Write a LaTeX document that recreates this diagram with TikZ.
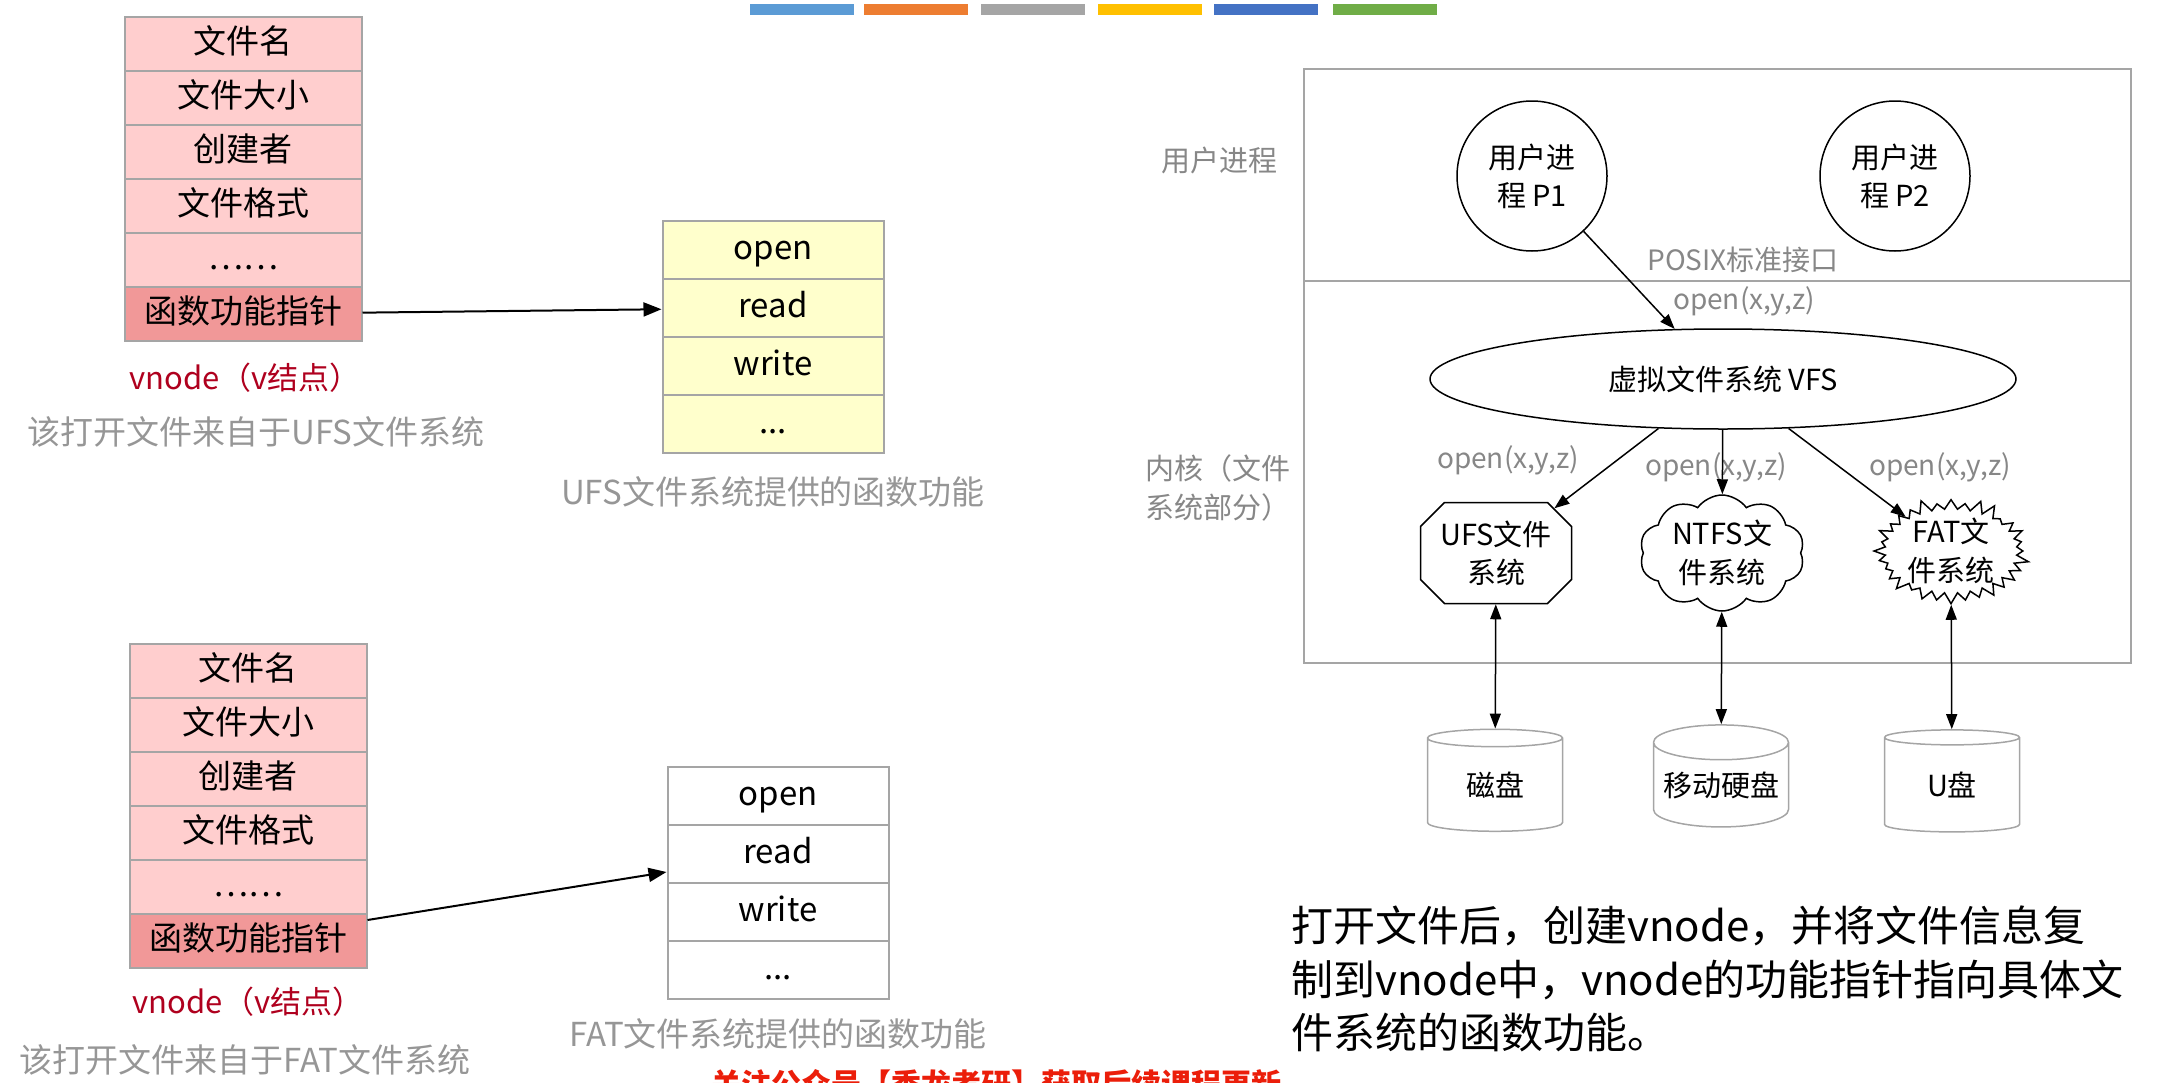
\documentclass[tikz,border=0pt]{standalone}
\usepackage{fontspec}
\setmainfont{Noto Sans CJK SC}
\usepackage{tikz}
\usetikzlibrary{arrows.meta}
\usetikzlibrary{shapes.geometric}
\usetikzlibrary{shapes.misc}
\usetikzlibrary{shapes.symbols}
\definecolor{pinkfill}{RGB}{255,206,206}
\definecolor{ptrfill}{RGB}{241,152,152}
\definecolor{funcfill}{RGB}{255,255,204}
\definecolor{linegray}{RGB}{165,165,165}
\definecolor{notegray}{RGB}{150,150,150}
\definecolor{taggray}{RGB}{135,135,135}
\definecolor{vred}{RGB}{175,0,30}
\definecolor{wmred}{RGB}{235,30,10}
\tikzset{
  row/.style={draw=linegray, line width=2pt, inner sep=0pt, text height=25.5pt, text depth=6.5pt,
    font=\fontsize{33}{40}\selectfont},
  pinkrow/.style={row, fill=pinkfill, minimum width=237pt, minimum height=54pt},
  ptrrow/.style={pinkrow, fill=ptrfill},
  funcrow/.style={row, fill=white, minimum width=221pt, minimum height=58pt},
  note/.style={text=notegray, inner sep=0pt, font=\fontsize{33}{40}\selectfont},
  vlabel/.style={text=vred, inner sep=0pt, font=\fontsize{31}{38}\selectfont},
  tag/.style={text=taggray, inner sep=0pt, font=\fontsize{28}{38}\selectfont},
  fsnode/.style={draw, line width=1.5pt, inner sep=0pt, align=center, font=\fontsize{29}{38}\selectfont},
  fslabel/.style={inner sep=0pt, align=center, font=\fontsize{29}{39}\selectfont},
  disk/.style={cylinder, shape border rotate=90, draw=linegray, line width=1.5pt, aspect=0.3,
    minimum width=135pt, minimum height=102pt, inner sep=0pt, font=\fontsize{29}{38}\selectfont},
  ptr/.style={-{Triangle[length=18pt,width=14pt]}, line width=2pt},
  call/.style={-{Triangle[length=15pt,width=11pt]}, line width=1.5pt},
  io/.style={{Triangle[length=15pt,width=11pt]}-{Triangle[length=15pt,width=11pt]}, line width=1.5pt}
}

\begin{document}
\begin{tikzpicture}[x=1pt,y=-1pt]
\useasboundingbox (0,0) rectangle (2166,1082);

% colour bars
\fill[fill={rgb,255:red,91;green,155;blue,213}] (750,4) rectangle (854,15);
\fill[fill={rgb,255:red,237;green,125;blue,49}] (864,4) rectangle (968,15);
\fill[fill={rgb,255:red,165;green,165;blue,165}] (981,4) rectangle (1085,15);
\fill[fill={rgb,255:red,255;green,192;blue,0}] (1098,4) rectangle (1202,15);
\fill[fill={rgb,255:red,68;green,114;blue,196}] (1214,4) rectangle (1318,15);
\fill[fill={rgb,255:red,112;green,173;blue,71}] (1333,4) rectangle (1437,15);

% vnode from UFS
\node[pinkrow] (A1) at (243,44) {文件名};
\node[pinkrow] (A2) at (243,98) {文件大小};
\node[pinkrow] (A3) at (243,152) {创建者};
\node[pinkrow] (A4) at (243,206) {文件格式};
\node[pinkrow] (A5) at (243,260) {……};
\node[ptrrow] (A6) at (243,314) {函数功能指针};
\node[vlabel] (VA) at (245,378) {vnode（v结点）};
\node[note] (NA) at (256,432) {该打开文件来自于UFS文件系统};

\node[funcrow, fill=funcfill] (U1) at (773,250) {open};
\node[funcrow, fill=funcfill] (U2) at (773,308) {read};
\node[funcrow, fill=funcfill] (U3) at (773,366) {write};
\node[funcrow, fill=funcfill] (U4) at (773,424) {...};
\node[note] (NU) at (773,492) {UFS文件系统提供的函数功能};

\draw[ptr] (A6) -- (U2);

% vnode from FAT
\node[pinkrow] (B1) at (248,671) {文件名};
\node[pinkrow] (B2) at (248,725) {文件大小};
\node[pinkrow] (B3) at (248,779) {创建者};
\node[pinkrow] (B4) at (248,833) {文件格式};
\node[pinkrow] (B5) at (248,887) {……};
\node[ptrrow] (B6) at (248,941) {函数功能指针};
\node[vlabel] (VB) at (248,1002) {vnode（v结点）};
\node[note] (NB) at (245,1060) {该打开文件来自于FAT文件系统};

\node[funcrow] (F1) at (778,796) {open};
\node[funcrow] (F2) at (778,854) {read};
\node[funcrow] (F3) at (778,912) {write};
\node[funcrow] (F4) at (778,970) {...};
\node[note] (NF) at (778,1034) {FAT文件系统提供的函数功能};

\draw[ptr] ([yshift=21pt]B6.east) -- ([yshift=-18pt]F2.west);

% VFS layers
\draw[linegray, line width=2pt] (1304,69) rectangle (2131,663);
\draw[linegray, line width=2pt] (1304,281) -- (2131,281);
\node[tag, font=\fontsize{29}{38}\selectfont] (user) at (1219,160) {用户进程};
\node[tag, font=\fontsize{29}{39}\selectfont, align=left] (kern) at (1218,488) {内核（文件\\系统部分）};

\node[fsnode, circle, minimum size=150pt] (P1) at (1532,176) {用户进\\程 P1};
\node[fsnode, circle, minimum size=150pt] (P2) at (1895,176) {用户进\\程 P2};
\node[tag] (posix) at (1743,260) {POSIX标准接口};
\node[tag] (O0) at (1744,301) {open(x,y,z)};
\node[fsnode, ellipse, minimum width=586pt, minimum height=100pt] (VFS) at (1723,379) {虚拟文件系统 VFS};

\node[fsnode, chamfered rectangle, chamfered rectangle xsep=12pt, chamfered rectangle ysep=12pt,
  minimum width=151pt, minimum height=101pt] (UFS) at (1496,553) {UFS文件\\系统};
\node[fsnode, cloud, cloud puffs=10, cloud puff arc=110, minimum width=165pt, minimum height=116pt,
  label={[fslabel]center:NTFS文\\件系统}] (NTFS) at (1722,553) {};
\node[fsnode, starburst, starburst points=32, starburst point height=13pt,
  minimum width=158pt, minimum height=110pt,
  label={[fslabel]center:FAT文\\件系统}] (FAT) at (1951,551) {};
\node[tag] (O1) at (1508,460) {open(x,y,z)};
\node[tag] (O2) at (1716,467) {open(x,y,z)};
\node[tag] (O3) at (1940,467) {open(x,y,z)};

\node[disk] (D1) at (1495,785) {磁盘};
\node[disk] (D2) at (1721,785) {移动硬盘};
\node[disk] (D3) at (1952,785) {U盘};

\draw[call] (P1) -- (VFS.134);
\draw[call] (VFS) -- (UFS);
\draw[call] (VFS) -- (NTFS);
\draw[call] (VFS) -- (FAT);
\draw[io] (UFS) -- (D1);
\draw[io] (NTFS) -- (D2);
\draw[io] (FAT) -- (D3);

\node[anchor=west, align=left, inner sep=0pt, font=\fontsize{42}{53.5}\selectfont] (txt) at (1291,979)
  {打开文件后，创建vnode，并将文件信息复\\制到vnode中，vnode的功能指针指向具体文\\件系统的函数功能。};

\begin{scope}
\clip (0,0) rectangle (2166,1082);
\node[anchor=north, inner sep=0pt, text=wmred, font=\fontsize{30}{36}\selectfont\bfseries] (wm) at (996,1069)
  {关注公众号【秃龙考研】获取后续课程更新};
\end{scope}
\end{tikzpicture}
\end{document}
